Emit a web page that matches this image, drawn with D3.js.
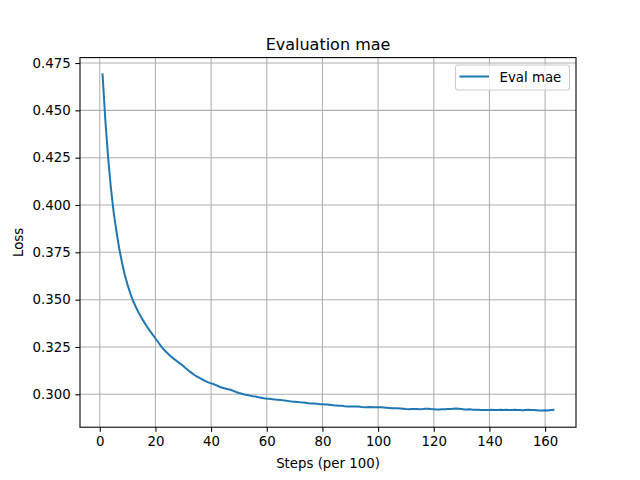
<!DOCTYPE html>
<html>
<head>
<meta charset="utf-8">
<script src="https://cdn.jsdelivr.net/npm/d3@7"></script>
<style>
  body { margin: 0; background: #fff; }
  svg { display: block; font-family: "DejaVu Sans", sans-serif; }
</style>
</head>
<body>
<svg id="chart" width="640" height="480"></svg>
<script>
'use strict'

// eval mae per step (x100), steps 1..163
const evalMae = [
  0.469, 0.445, 0.425, 0.409, 0.396, 0.386, 0.377, 0.3695, 0.363, 0.3578,
  0.3532, 0.3493, 0.3460, 0.3431, 0.3405, 0.3380, 0.3357, 0.3335, 0.3315, 0.3295,
  0.3275, 0.3255, 0.3237, 0.3222, 0.3208, 0.3195, 0.3183, 0.3172, 0.3161, 0.3149,
  0.3136, 0.3124, 0.3113, 0.3102, 0.3093, 0.3085, 0.3077, 0.307, 0.3063, 0.3058,
  0.3053, 0.3047, 0.3040, 0.3035, 0.3031, 0.3027, 0.3024, 0.3018, 0.3012, 0.3007,
  0.3003, 0.2999, 0.2996, 0.2993, 0.2990, 0.2988, 0.2985, 0.2982, 0.2979, 0.2977,
  0.2976, 0.2974, 0.2972, 0.2971, 0.2970, 0.2968, 0.2966, 0.2964, 0.2962, 0.2961,
  0.2960, 0.2958, 0.2957, 0.2955, 0.2953, 0.2952, 0.2951, 0.2950, 0.2948, 0.2947,
  0.2946, 0.2946, 0.2944, 0.2942, 0.2941, 0.2940, 0.2939, 0.2937, 0.2936, 0.2935,
  0.2935, 0.2936, 0.2935, 0.2933, 0.2932, 0.2932, 0.2933, 0.2932, 0.2931, 0.2931,
  0.2931, 0.2930, 0.2929, 0.2928, 0.2927, 0.2926, 0.2926, 0.2925, 0.2924, 0.2922,
  0.2921, 0.2922, 0.2923, 0.2922, 0.2921, 0.2922, 0.2924, 0.2924, 0.2922, 0.2921,
  0.2920, 0.2920, 0.2921, 0.2921, 0.2922, 0.2923, 0.2924, 0.2925, 0.2924, 0.2922,
  0.2920, 0.2920, 0.2921, 0.2919, 0.2918, 0.2918, 0.2917, 0.2917, 0.2917, 0.2917,
  0.2918, 0.2917, 0.2917, 0.2918, 0.2917, 0.2918, 0.2917, 0.2917, 0.2918, 0.2917,
  0.2917, 0.2916, 0.2917, 0.2918, 0.2917, 0.2917, 0.2916, 0.2915, 0.2915, 0.2916,
  0.2915, 0.2917, 0.2918
]
const steps = evalMae.map((d, i) => i + 1)

const xTicks = [0, 20, 40, 60, 80, 100, 120, 140, 160]
const yTicks = [0.300, 0.325, 0.350, 0.375, 0.400, 0.425, 0.450, 0.475]

const titleText = 'Evaluation mae'
const xLabel = 'Steps (per 100)'
const yLabel = 'Loss'
const seriesName = 'Eval mae'

const plotLeft = 80, plotRight = 576, plotTop = 57.6, plotBottom = 427.2
const lineColor = '#1f77b4'

const svg = d3.select('#chart')

// matplotlib-like 5% margins
function padded(ext) {
  const p = (ext[1] - ext[0]) * 0.05
  return [ext[0] - p, ext[1] + p]
}

const x = d3.scaleLinear().domain(padded(d3.extent(steps))).range([plotLeft, plotRight])
const y = d3.scaleLinear().domain(padded(d3.extent(evalMae))).range([plotBottom, plotTop])

// grid
const grid = svg.append('g')
grid.selectAll('.gx').data(xTicks).enter().append('line')
  .attr('x1', d => x(d)).attr('x2', d => x(d))
  .attr('y1', plotTop).attr('y2', plotBottom)
  .attr('stroke', '#b0b0b0').attr('stroke-width', 1.07)
grid.selectAll('.gy').data(yTicks).enter().append('line')
  .attr('x1', plotLeft).attr('x2', plotRight)
  .attr('y1', d => y(d)).attr('y2', d => y(d))
  .attr('stroke', '#b0b0b0').attr('stroke-width', 1.07)

// series
const line = d3.line().x((d, i) => x(steps[i])).y(d => y(d))
svg.append('path')
  .datum(evalMae)
  .attr('d', line)
  .attr('fill', 'none')
  .attr('stroke', lineColor)
  .attr('stroke-width', 2)
  .attr('stroke-linejoin', 'round')
  .attr('stroke-linecap', 'square')

// axes
const xAxis = d3.axisBottom(x).tickValues(xTicks).tickSize(4.67).tickPadding(4.67)
  .tickFormat(d3.format('d'))
const yAxis = d3.axisLeft(y).tickValues(yTicks).tickSize(4.67).tickPadding(4.67)
  .tickFormat(d3.format('.3f'))

const gx = svg.append('g').attr('transform', `translate(0,${plotBottom})`).call(xAxis)
const gy = svg.append('g').attr('transform', `translate(${plotLeft},0)`).call(yAxis)
for (const g of [gx, gy]) {
  g.select('.domain').remove()
  g.selectAll('line').attr('stroke', '#000').attr('stroke-width', 1.07)
  g.selectAll('text').attr('fill', '#000')
    .style('font-family', '"DejaVu Sans", sans-serif').style('font-size', '13.33px')
}

// spines
svg.append('rect')
  .attr('x', plotLeft).attr('y', plotTop)
  .attr('width', plotRight - plotLeft).attr('height', plotBottom - plotTop)
  .attr('fill', 'none').attr('stroke', '#000').attr('stroke-width', 1.07)

// labels
svg.append('text')
  .attr('x', (plotLeft + plotRight) / 2).attr('y', plotTop - 8)
  .attr('text-anchor', 'middle')
  .style('font-size', '16px')
  .text(titleText)

svg.append('text')
  .attr('x', (plotLeft + plotRight) / 2).attr('y', 468)
  .attr('text-anchor', 'middle')
  .style('font-size', '13.33px')
  .text(xLabel)

svg.append('text')
  .attr('transform', `translate(23,${(plotTop + plotBottom) / 2}) rotate(-90)`)
  .attr('text-anchor', 'middle')
  .style('font-size', '13.33px')
  .text(yLabel)

// legend
const lg = svg.append('g')
lg.append('rect')
  .attr('x', 455.5).attr('y', 65)
  .attr('width', 114).attr('height', 25)
  .attr('rx', 2.7)
  .attr('fill', 'rgba(255,255,255,0.8)')
  .attr('stroke', '#cccccc').attr('stroke-width', 1.07)
lg.append('line')
  .attr('x1', 459.5).attr('x2', 489)
  .attr('y1', 76.5).attr('y2', 76.5)
  .attr('stroke', lineColor).attr('stroke-width', 2)
lg.append('text')
  .attr('x', 499.5).attr('y', 81.5)
  .style('font-size', '13.33px')
  .text(seriesName)
</script>
</body>
</html>
